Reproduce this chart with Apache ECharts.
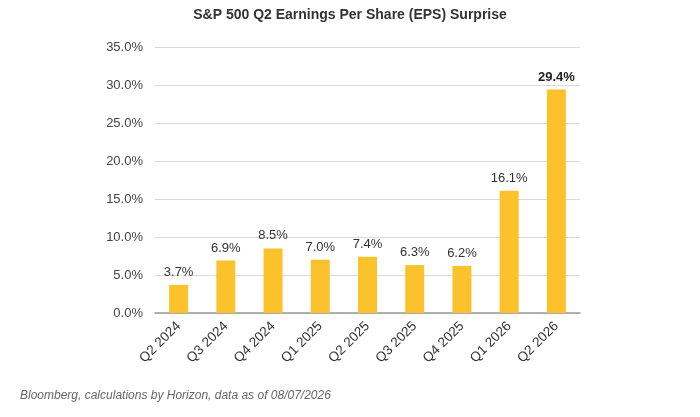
<!DOCTYPE html>
<html>
<head>
<meta charset="utf-8">
<script src="https://cdn.jsdelivr.net/npm/echarts@6/dist/echarts.min.js"></script>
<style>
  html, body { margin: 0; padding: 0; background: #fff; }
  #chart { width: 700px; height: 417px; }
</style>
</head>
<body>
<div id="chart"></div>
<script>
// quarters and EPS surprise (%)
var categories = ['Q2 2024', 'Q3 2024', 'Q4 2024', 'Q1 2025', 'Q2 2025', 'Q3 2025', 'Q4 2025', 'Q1 2026', 'Q2 2026'];
var surprise = [3.7, 6.9, 8.5, 7.0, 7.4, 6.3, 6.2, 16.1, 29.4];
var yTicks = [0, 5, 10, 15, 20, 25, 30, 35];

var font = 'Helvetica, Arial, "Liberation Sans", sans-serif';
var myChart = echarts.init(document.getElementById('chart'));

myChart.setOption({
    animation: false,
    textStyle: { fontFamily: font },
    title: {
        text: 'S&P 500 Q2 Earnings Per Share (EPS) Surprise',
        left: 'center',
        top: 3,
        textStyle: { fontSize: 14, fontWeight: 'bold', color: '#333', fontFamily: font }
    },
    graphic: [
        {
            type: 'text',
            left: 20,
            top: 390,
            style: {
                text: 'Bloomberg, calculations by Horizon, data as of 08/07/2026',
                font: 'italic 12px ' + font,
                fill: '#666'
            }
        }
    ],
    grid: { left: 155, right: 120, top: 47, bottom: 104 },
    xAxis: {
        type: 'category',
        data: categories,
        axisTick: { show: false },
        axisLine: { lineStyle: { color: '#999', width: 1.5 } },
        axisLabel: {
            rotate: 45,
            fontSize: 13.5,
            color: '#333',
            margin: 11
        }
    },
    yAxis: {
        type: 'value',
        min: yTicks[0],
        max: yTicks[yTicks.length - 1],
        interval: 5,
        axisLine: { show: false },
        axisTick: { show: false },
        axisLabel: {
            fontSize: 13,
            color: '#444',
            margin: 12,
            formatter: function (v) { return v.toFixed(1) + '%'; }
        },
        splitLine: { lineStyle: { color: '#d9d9d9' } }
    },
    series: [
        {
            type: 'bar',
            data: surprise.map(function (v, i) {
                var last = i === surprise.length - 1;
                return {
                    value: v,
                    label: last ? { fontWeight: 'bold', color: '#222' } : undefined
                };
            }),
            barWidth: 19,
            itemStyle: { color: '#FBC22C' },
            label: {
                show: true,
                position: 'top',
                distance: 6,
                fontSize: 13,
                color: '#333',
                formatter: function (p) { return p.value.toFixed(1) + '%'; }
            }
        }
    ]
});
</script>
</body>
</html>
